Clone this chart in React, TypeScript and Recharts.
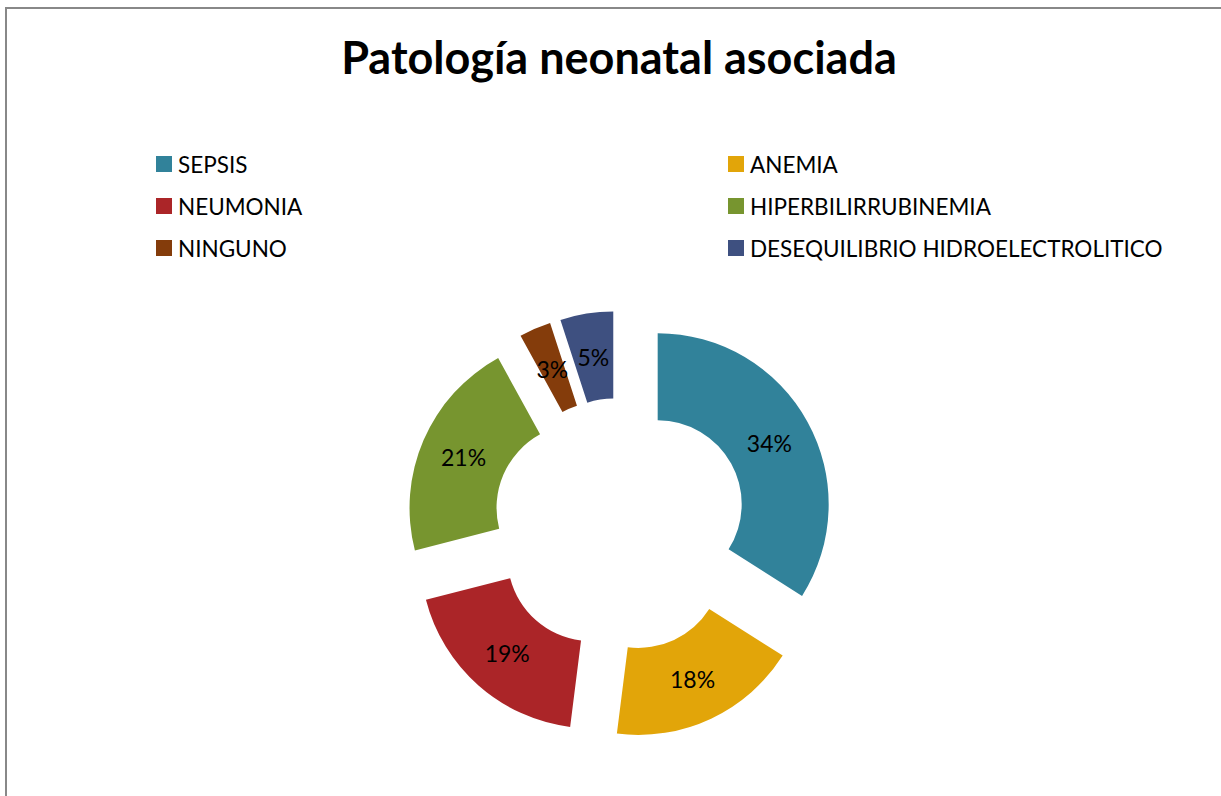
import { Pie, PieChart, Sector } from "recharts";

const categories = ["SEPSIS", "ANEMIA", "NEUMONIA", "HIPERBILIRRUBINEMIA", "NINGUNO", "DESEQUILIBRIO HIDROELECTROLITICO"];
const percents = [34, 18, 19, 21, 3, 5];
const colors = ["#31829A", "#E2A509", "#AB2528", "#77952F", "#843C0B", "#3E5080"];

const data = categories.map((name, i) => ({ name, value: percents[i], fill: colors[i] }));

const RAD = Math.PI / 180;
const EXPLODE = 43;
const FONT = "Lato, 'Open Sans', sans-serif";

function ExplodedSector(props: any) {
  const { cx, cy, midAngle, fill } = props;
  const dx = EXPLODE * Math.cos(-midAngle * RAD);
  const dy = EXPLODE * Math.sin(-midAngle * RAD);
  return <Sector {...props} cx={cx + dx} cy={cy + dy} fill={fill} stroke="none" />;
}

function renderLabel(props: any) {
  const { cx, cy, midAngle, innerRadius, outerRadius, value } = props;
  const r = EXPLODE + (innerRadius + outerRadius) / 2;
  const x = cx + r * Math.cos(-midAngle * RAD);
  const y = cy + r * Math.sin(-midAngle * RAD);
  return (
    <text x={x} y={y} textAnchor="middle" dominantBaseline="central" fill="#000" fontSize={23} fontFamily={FONT}>
      {`${value}%`}
    </text>
  );
}

function LegendGrid() {
  return (
    <div style={{ position: "absolute", left: 156, top: 152, display: "grid", gridTemplateColumns: "572px 440px", rowGap: 18, fontFamily: FONT, fontSize: 22.5, color: "#000" }}>
      {data.map((d) => (
        <div key={d.name} style={{ display: "flex", alignItems: "center", height: 24, whiteSpace: "nowrap" }}>
          <span style={{ width: 16, height: 16, background: d.fill, marginRight: 6, display: "inline-block", flex: "none" }} />
          {d.name}
        </div>
      ))}
    </div>
  );
}

export default function App() {
  return (
    <div style={{ position: "absolute", left: 0, top: 0, width: 1221, height: 796, background: "#fff", overflow: "hidden" }}>
      <div style={{ position: "absolute", left: 5, top: 7, width: 1240, height: 820, borderLeft: "2px solid #888", borderTop: "2px solid #888" }} />
      <div style={{ position: "absolute", left: 0, top: 30, width: 1238, textAlign: "center", fontFamily: FONT, fontWeight: 700, fontSize: 45, color: "#000" }}>
        Patología neonatal asociada
      </div>
      <LegendGrid />
      <PieChart width={1221} height={796} margin={{ top: 0, right: 0, bottom: 0, left: 0 }} style={{ position: "absolute", left: 0, top: 0 }}>
        <Pie
          data={data}
          dataKey="value"
          nameKey="name"
          cx={620}
          cy={525}
          innerRadius={84}
          outerRadius={171}
          startAngle={90}
          endAngle={-270}
          stroke="none"
          shape={ExplodedSector}
          activeShape={ExplodedSector}
          label={renderLabel}
          labelLine={false}
          isAnimationActive={false}
        />
      </PieChart>
    </div>
  );
}
